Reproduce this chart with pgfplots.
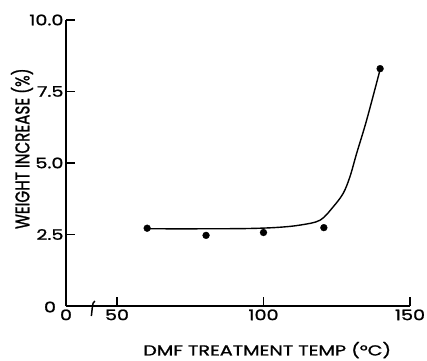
\documentclass[border=0pt]{standalone}
\usepackage{fontspec}
\setmainfont{Poppins}
\newfontfamily\lab{Poppins}[FakeBold=1.3,FakeStretch=1.32]
\newfontfamily\laby{Poppins}[FakeBold=1.3]
\usepackage{graphicx}
\usepackage{pgfplots}
\pgfplotsset{compat=1.18}
\begin{document}
\begin{tikzpicture}
\begin{axis}[
  scale only axis,
  width=344pt, height=286pt,
  xmin=32.6, xmax=150, ymin=0, ymax=10,
  axis x line=bottom, axis y line=left,
  axis line style={line width=1.3pt,-},
  every tick/.style={line width=1.3pt,black},
  tick align=inside, major tick length=9pt,
  xtick={32.6,50,100,150}, xticklabels={0,50,100,150},
  ytick={2.5,5,7.5,10}, yticklabels={2.5,5.0,7.5,10.0},
  ticklabel style={font=\lab\fontsize{14.5}{14.5}\selectfont},
  xticklabel style={yshift=0pt},
  yticklabel style={xshift=1pt},
  xlabel={DMF TREATMENT TEMP (\textdegree C)},
  ylabel={\scalebox{1}[1.3]{WEIGHT INCREASE (\%)}},
  xlabel style={font=\lab\fontsize{14.5}{14.5}\selectfont, at={(axis description cs:0.585,-0.154)},anchor=center},
  ylabel style={font=\laby\fontsize{15.2}{15.2}\selectfont, at={(axis description cs:-0.128,0.55)},anchor=center},
  clip=false,
]
\addplot[black, line width=1.4pt, smooth, tension=0.55] coordinates {
 (61,2.70) (80,2.70) (95,2.71) (105,2.75) (112.5,2.83) (119.3,3.0)
 (123.8,3.47) (127.2,3.94) (129.5,4.52) (131.8,5.34) (135.2,6.5) (139.8,8.27)
};
\addplot[only marks, mark=*, mark size=3.4pt, black] coordinates {
 (60.3,2.72) (80.4,2.47) (100,2.57) (120.6,2.74) (139.8,8.3)
};
\node[font=\lab\fontsize{14.5}{14.5}\selectfont, anchor=center] at (axis cs:32.6,0) [xshift=-16pt, yshift=-1pt] {0};
\draw[line width=1.5pt] (axis cs:41.6,0) ++(2.5pt,5pt) .. controls ++(-2.5pt,-1pt) and ++(1pt,3pt) .. ++(-2.5pt,-6pt) .. controls ++(-1pt,-3pt) and ++(1pt,3pt) .. ++(-1pt,-9pt);
\end{axis}
\pgfresetboundingbox
\useasboundingbox (current axis.south west) ++(-66pt,-54pt) rectangle ([shift={(17pt,20pt)}]current axis.north east);
\end{tikzpicture}
\end{document}
